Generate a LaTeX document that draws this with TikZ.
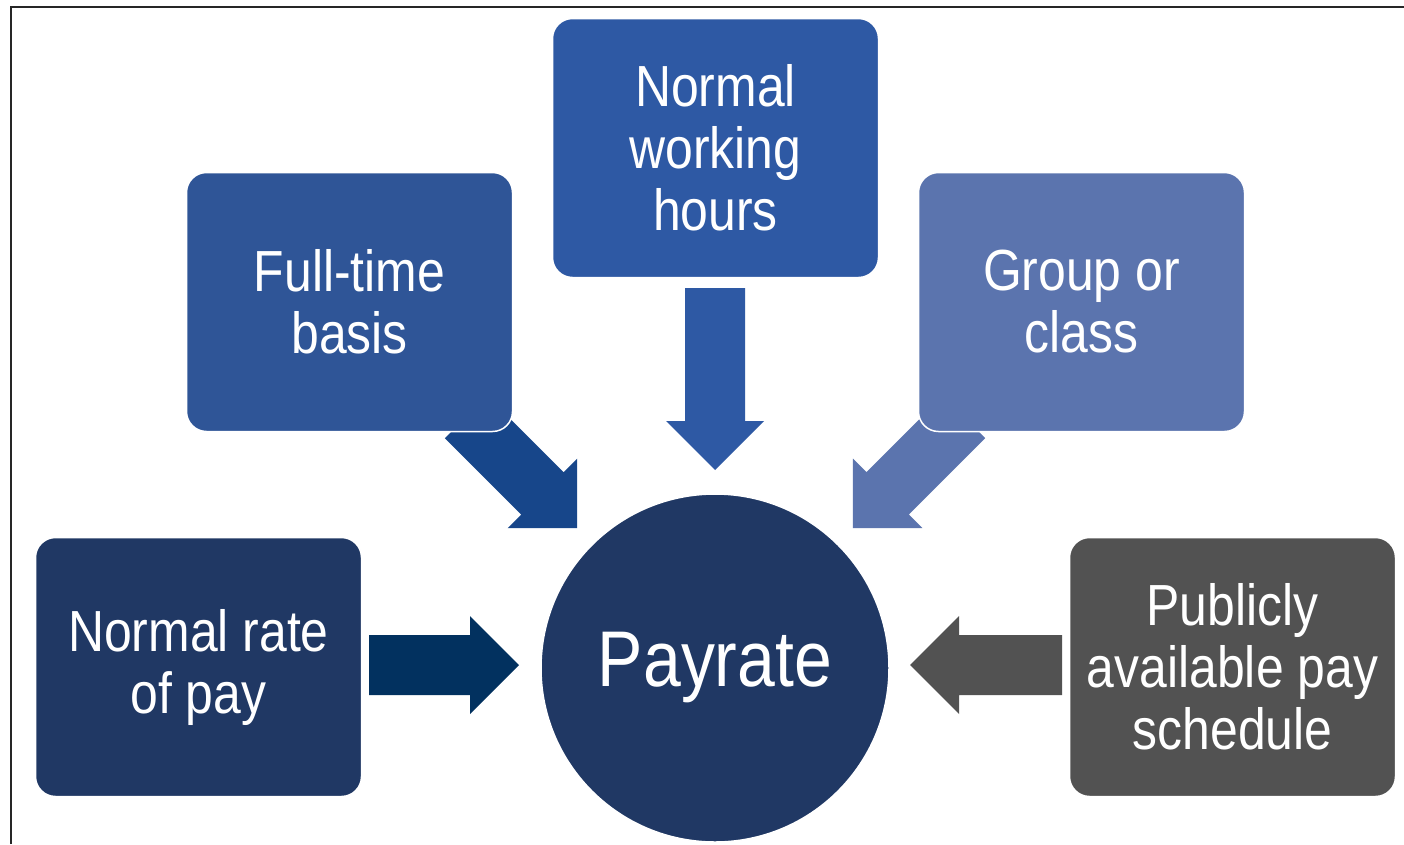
\documentclass[tikz,border=0pt]{standalone}
\usepackage{fontspec}
\setmainfont[FakeStretch=0.86]{Liberation Sans}
\definecolor{navy}{HTML}{203864}
\definecolor{navyarrow}{HTML}{02315F}
\definecolor{fullblue}{HTML}{2F5597}
\definecolor{fullarrow}{HTML}{17468A}
\definecolor{hoursblue}{HTML}{2E59A4}
\definecolor{groupblue}{HTML}{5B74AE}
\definecolor{greybox}{HTML}{525252}
\tikzset{
  box/.style={rounded corners=20pt, draw=white, line width=1.5pt, minimum width=326pt, minimum height=259pt,
    inner sep=0pt, text=white, align=center, font=\fontsize{58}{62}\selectfont},
  hub/.style={circle, draw=white, line width=1.5pt, minimum size=348pt, inner sep=0pt, fill=navy,
    text=white, font=\fontsize{79}{88}\selectfont},
}
% block arrow: start point, angle, length, colour
\newcommand{\blockarrow}[4]{%
  \begin{scope}[shift={(#1)},rotate=#2]
    \fill[#4] (0,-30) -- (#3-49,-30) -- (#3-49,-49) -- (#3,0) -- (#3-49,49) -- (#3-49,30) -- (0,30) -- cycle;
  \end{scope}}
\begin{document}
\begin{tikzpicture}[x=1pt,y=-1pt]
\useasboundingbox (0,0) rectangle (1404,844);
\fill[white] (0,0) rectangle (1404,844);
% frame (cropped)
\draw[black!85, line width=2.5pt] (11,844) -- (11,7) -- (1404,7);
% arrow start coordinates
\coordinate (aR) at (369,665);
\coordinate (aL) at (1062,665);
\coordinate (aD) at (715,288);
\coordinate (aDL) at (466,417);
\coordinate (aDR) at (964,417);
\blockarrow{aR}{0}{150}{navyarrow}
\blockarrow{aL}{180}{152}{greybox}
\blockarrow{aD}{-90}{182}{hoursblue}
\blockarrow{aDL}{-45}{157}{fullarrow}
\blockarrow{aDR}{-135}{157}{groupblue}
% boxes
\node[box, fill=navy] (rate) at (198.5,667) {Normal rate\\of pay};
\node[box, fill=fullblue] (full) at (349.5,302) {Full-time\\basis};
\node[box, fill=hoursblue] (hours) at (715.5,148) {Normal\\working\\hours};
\node[box, fill=groupblue] (group) at (1081.5,302) {Group or\\class};
\node[box, fill=greybox] (pub) at (1232.5,667) {Publicly\\available pay\\schedule};
\node[hub] (pay) at (715,668) {Payrate};
\end{tikzpicture}
\end{document}
